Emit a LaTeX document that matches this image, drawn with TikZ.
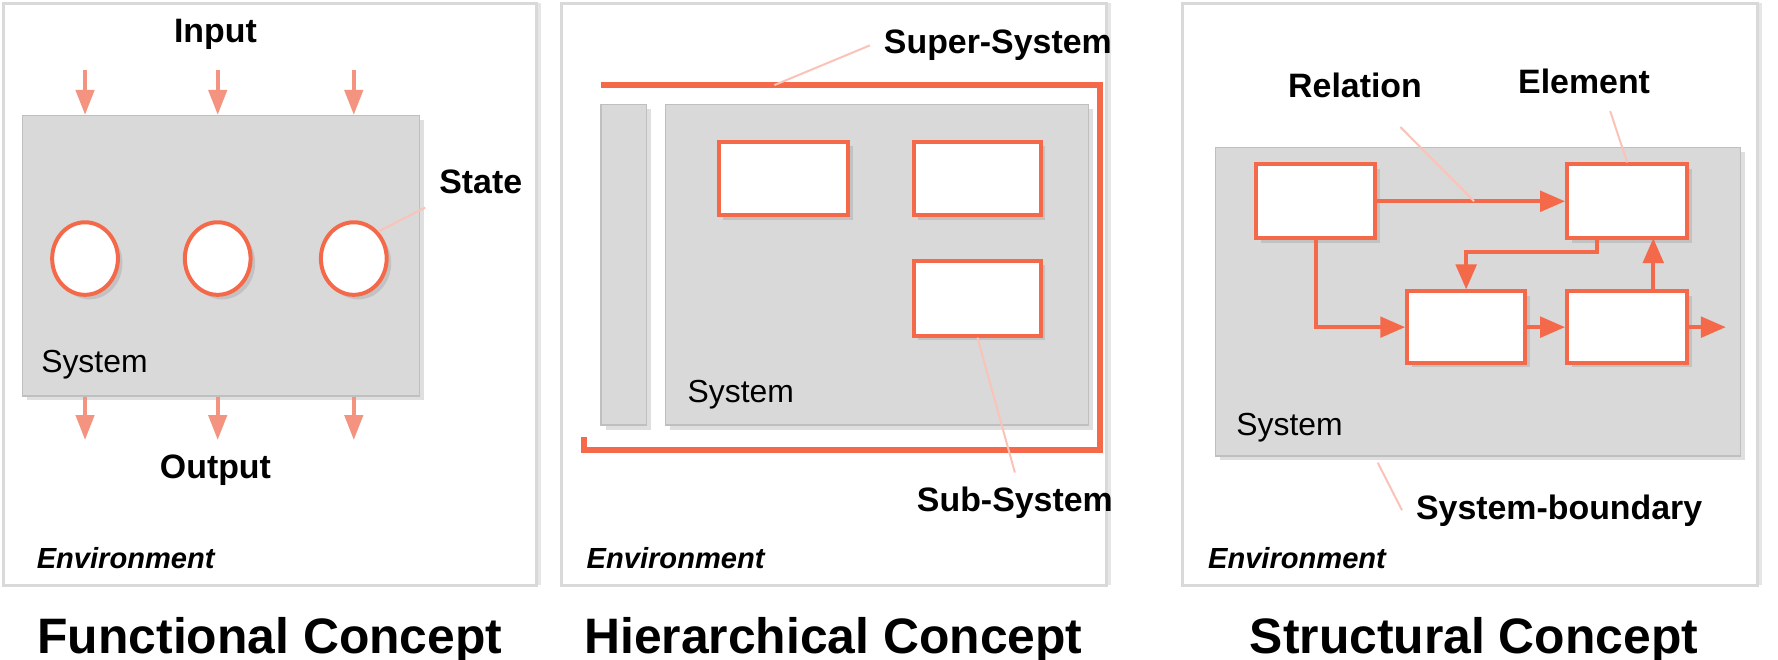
\documentclass[tikz,border=0pt]{standalone}
\usepackage{fontspec}
\setmainfont{Liberation Sans}
\usetikzlibrary{shapes.geometric,shadows,arrows.meta,positioning}
\definecolor{sysorange}{HTML}{F4694A}
\definecolor{lightorange}{HTML}{F4937F}
\definecolor{sysgray}{HTML}{D9D9D9}
\tikzset{
  panel/.style={draw=black!15,fill=white,line width=0.8pt,drop shadow={shadow xshift=0.4mm,shadow yshift=0mm,opacity=0.2}},
  sysbox/.style={rectangle,draw=black!25,fill=sysgray,drop shadow={shadow xshift=0.4mm,shadow yshift=-0.4mm,opacity=0.25}},
  elem/.style={rectangle,draw=sysorange,fill=white,line width=1pt,drop shadow={shadow xshift=0.4mm,shadow yshift=-0.4mm,opacity=0.25}},
  state/.style={ellipse,draw=sysorange,fill=white,line width=1pt,minimum width=5.8mm,minimum height=6.4mm,inner sep=0pt,drop shadow={shadow xshift=0.4mm,shadow yshift=-0.4mm,opacity=0.25}},
  io/.style={-{Triangle[length=2.2mm,width=1.6mm]},draw=lightorange,line width=1pt},
  flow/.style={-{Triangle[length=2.2mm,width=1.8mm]},draw=sysorange,line width=1pt},
  leader/.style={draw=sysorange!40,line width=0.5pt},
  lbl/.style={font=\fontsize{8.5}{10}\selectfont\bfseries},
  systxt/.style={font=\fontsize{8}{10}\selectfont,anchor=west},
  envtxt/.style={font=\fontsize{7.3}{9}\selectfont\bfseries\itshape,anchor=west},
  title/.style={font=\fontsize{12.5}{14}\selectfont\bfseries}
}
\begin{document}
\begin{tikzpicture}[x=0.1mm,y=-0.1mm]
  \useasboundingbox (0,0) rectangle (1568,582);
  % panels
  \draw[panel] (3,3) rectangle (473,516);
  \draw[panel] (495,3) rectangle (976,516);
  \draw[panel] (1043,3) rectangle (1550,516);

  % Functional concept
  \node[sysbox,minimum width=35mm,minimum height=24.7mm] (fsys) at (195,225.5) {};
  \node[systxt] (fsystxt) at (24,322) {System};
  \foreach \i/\x in {1/75,2/192,3/312} {
    \node[state] (st\i) at (\x,228) {};
    \coordinate (in\i) at (\x,62);
    \coordinate (out\i) at (\x,388);
    \draw[io] (in\i) -- (in\i |- fsys.north);
    \draw[io] (out\i |- fsys.south) -- (out\i);
  }
  \node[lbl] (input) at (190,30) {Input};
  \node[lbl] (output) at (190,415) {Output};
  \node[lbl,anchor=west] (statelbl) at (375,160) {State};
  \draw[leader] (statelbl.south west) -- (st3.north east);
  \node[envtxt] (fenv) at (20,492) {Environment};
  \node[title] (ftitle) at (238,565) {Functional Concept};

  % Hierarchical concept
  \draw[draw=sysorange,line width=1.6pt] (530,75) -- (970,75) -- (970,397) -- (515,397) -- (515,385);
  \node[sysbox,minimum width=4mm,minimum height=28.3mm] (hleft) at (550,233.5) {};
  \node[sysbox,minimum width=37.3mm,minimum height=28.3mm] (hsys) at (773.5,233.5) {};
  \node[elem,minimum width=11.4mm,minimum height=6.5mm] (h1) at (691,157.5) {};
  \node[elem,minimum width=11.2mm,minimum height=6.5mm] (h2) at (862,157.5) {};
  \node[elem,minimum width=11.2mm,minimum height=6.6mm] (h3) at (862,263) {};
  \node[systxt] (hsystxt) at (594,348) {System};
  \node[lbl] (super) at (880,40) {Super-System};
  \node[lbl] (sub) at (895,443) {Sub-System};
  \coordinate (superfoot) at (683,75);
  \draw[leader] (super.west) -- (superfoot);
  \draw[leader] (h3.south) -- (sub.north);
  \node[envtxt] (henv) at (505,492) {Environment};
  \node[title] (htitle) at (735,565) {Hierarchical Concept};

  % Structural concept
  \node[sysbox,minimum width=46.3mm,minimum height=27.2mm] (ssys) at (1303.5,266) {};
  \node[elem,minimum width=10.5mm,minimum height=6.5mm] (ea) at (1160.5,177.5) {};
  \node[elem,minimum width=10.6mm,minimum height=6.5mm] (eb) at (1435,177.5) {};
  \node[elem,minimum width=10.4mm,minimum height=6.3mm] (ec) at (1293,288.5) {};
  \node[elem,minimum width=10.6mm,minimum height=6.3mm] (ed) at (1435,288.5) {};
  \coordinate (sout) at (1522,288.5);
  \coordinate (bfoot) at (1408,210);
  \coordinate (dtop) at (1458,257);
  \coordinate (btop) at (1458,210);
  \draw[flow] (ea) -- (eb);
  \draw[flow] (ea.south) |- (ec.west);
  \draw[flow] (bfoot) -- ++(0,12) -| (ec.north);
  \draw[flow] (ec) -- (ed);
  \draw[flow] (dtop) -- (btop);
  \draw[flow] (ed) -- (sout);
  \node[systxt] (ssystxt) at (1078,377) {System};
  \node[lbl] (relation) at (1195,75) {Relation};
  \node[lbl] (element) at (1397,72) {Element};
  \node[lbl] (boundary) at (1375,450) {System-boundary};
  \coordinate (relfoot) at (1300,177.5);
  \coordinate (relhead) at (1235,112);
  \coordinate (elhead) at (1420,98);
  \coordinate (bdfoot) at (1215,408);
  \draw[leader] (relhead) -- (relfoot);
  \draw[leader] (elhead) -- (eb.north);
  \draw[leader] (bdfoot) -- (boundary.west);
  \node[envtxt] (senv) at (1053,492) {Environment};
  \node[title] (stitle) at (1300,565) {Structural Concept};
\end{tikzpicture}
\end{document}
